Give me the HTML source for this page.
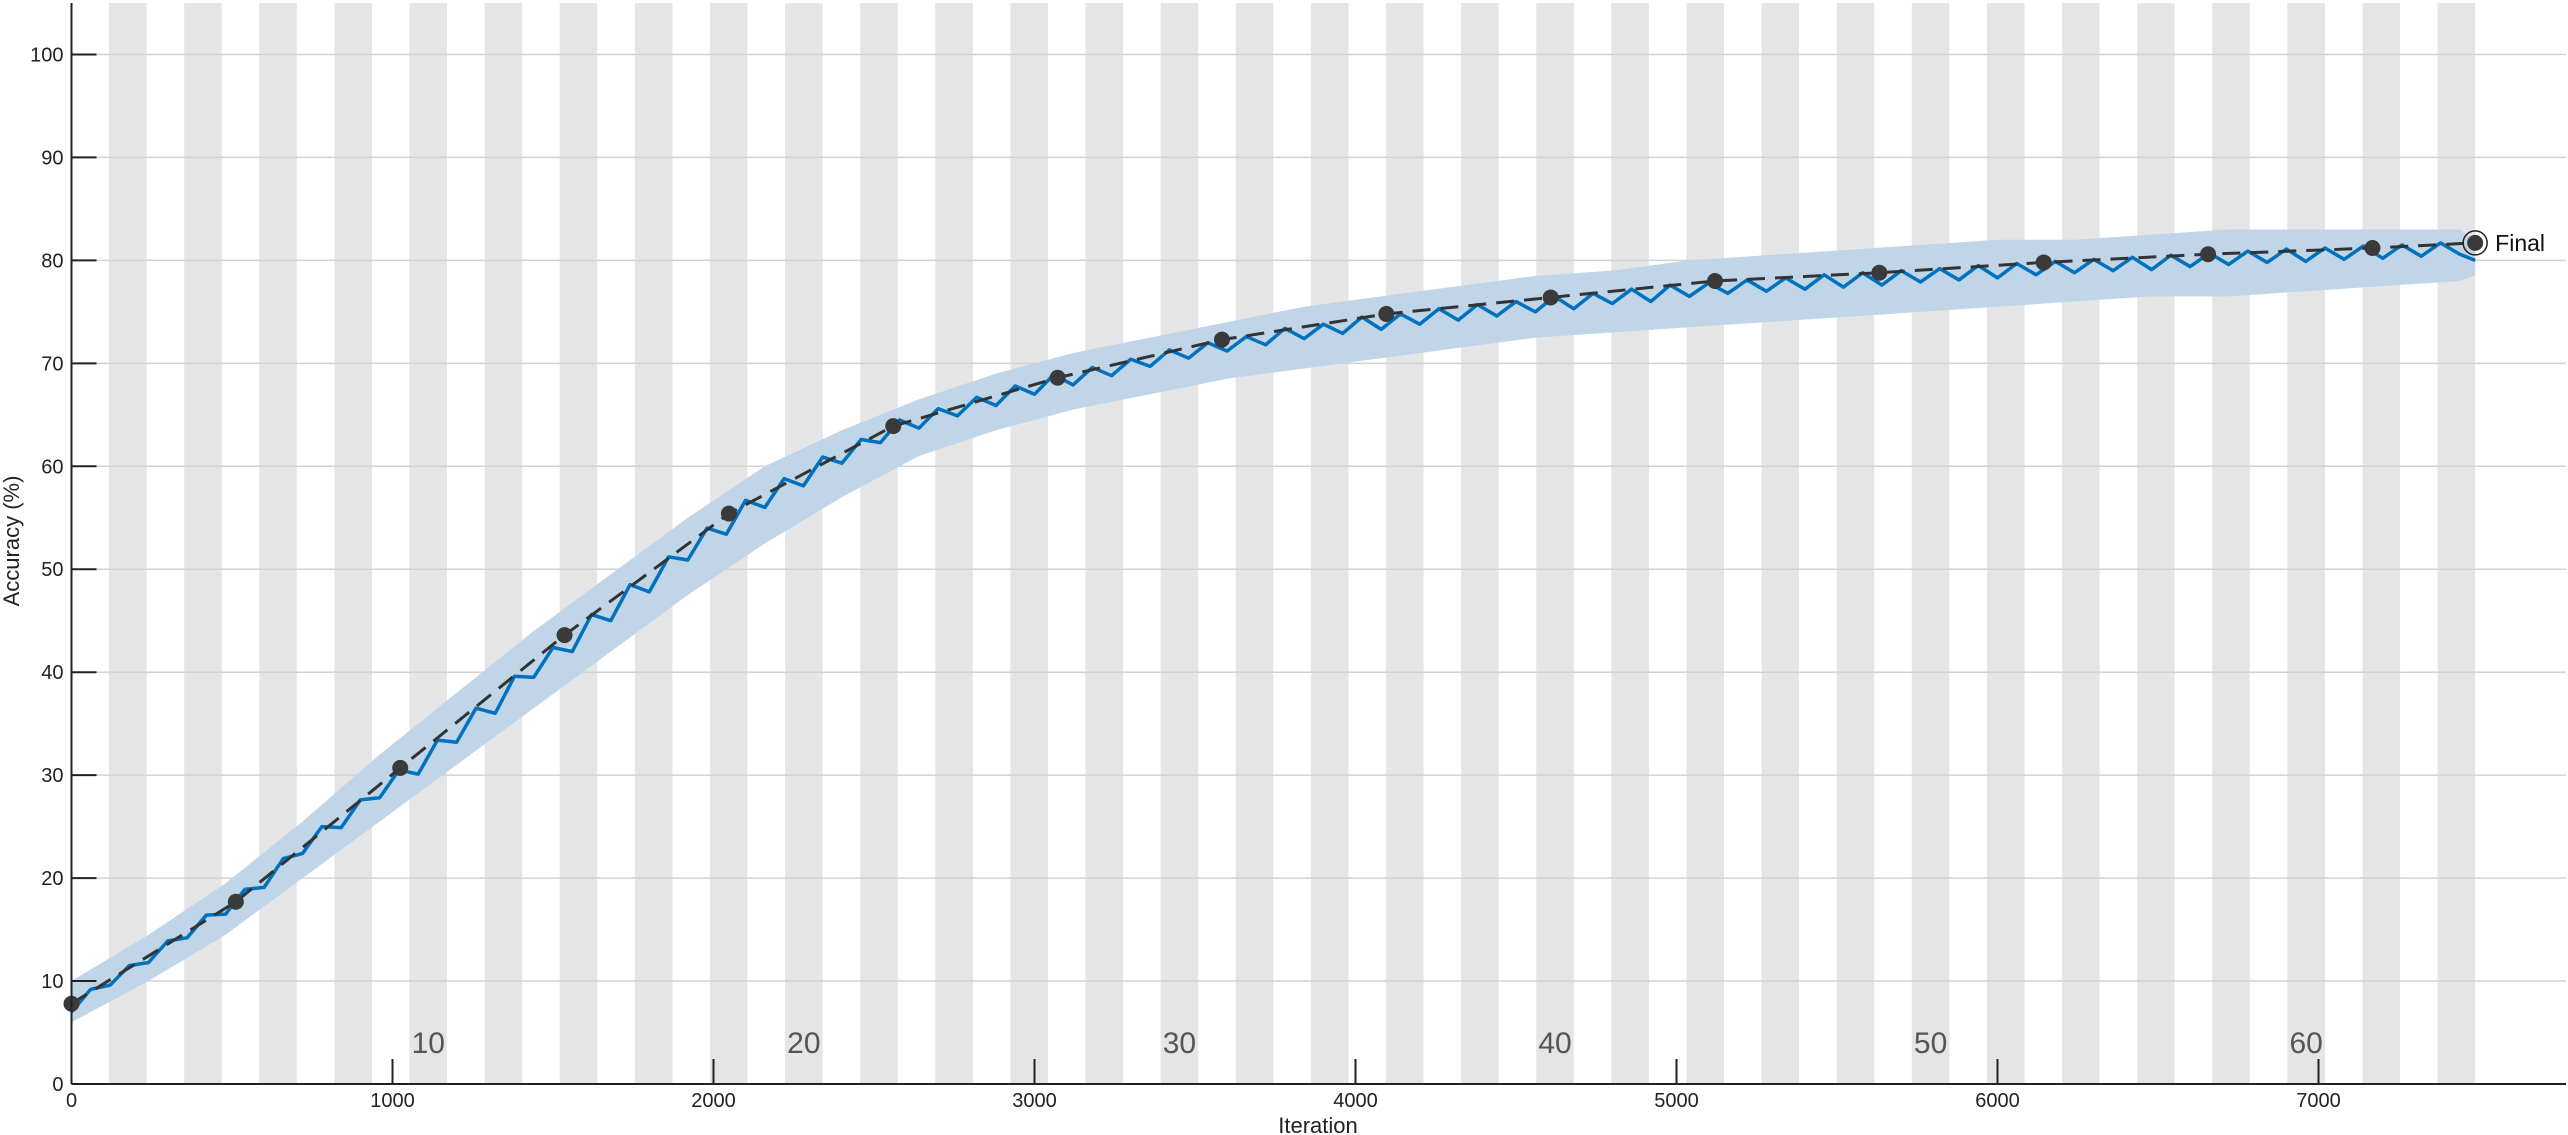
<!DOCTYPE html>
<html><head><meta charset="utf-8"><style>
html,body{margin:0;padding:0;background:#fff;}
svg{display:block;font-family:"Liberation Sans",Arial,sans-serif;}
</style></head><body>
<svg id="chart" width="2568" height="1135" viewBox="0 0 2568 1135" xmlns="http://www.w3.org/2000/svg">
<g id="bands"></g>
<g id="grid"></g>
<g id="epochLabels"></g>
<g id="series"></g>
<g id="axes"></g>
<text x="1318" y="1133" font-size="22" text-anchor="middle" fill="#222">Iteration</text>
<text x="0" y="0" font-size="22" text-anchor="middle" fill="#222" transform="translate(19,541) rotate(-90)">Accuracy (%)</text>
</svg>
<script>
const xTicks=[0,1000,2000,3000,4000,5000,6000,7000];
const yTicks=[0,10,20,30,40,50,60,70,80,90,100];
const epochLabels=[10,20,30,40,50,60];
const itersPerEpoch=117;
const numEpochs=64;
const darkIters=[0,60,120,180,240,300,360,420,480,540,600,660,720,780,840,900,960,1020,1080,1140,1200,1260,1320,1380,1440,1500,1560,1620,1680,1740,1800,1860,1920,1980,2040,2100,2160,2220,2280,2340,2400,2460,2520,2580,2640,2700,2760,2820,2880,2940,3000,3060,3120,3180,3240,3300,3360,3420,3480,3540,3600,3660,3720,3780,3840,3900,3960,4020,4080,4140,4200,4260,4320,4380,4440,4500,4560,4620,4680,4740,4800,4860,4920,4980,5040,5100,5160,5220,5280,5340,5400,5460,5520,5580,5640,5700,5760,5820,5880,5940,6000,6060,6120,6180,6240,6300,6360,6420,6480,6540,6600,6660,6720,6780,6840,6900,6960,7020,7080,7140,7200,7260,7320,7380,7440,7488];
const darkAcc=[7.0,9.2,9.6,11.5,11.8,13.9,14.2,16.4,16.5,18.9,19.1,21.9,22.4,25.0,24.9,27.6,27.8,30.5,30.1,33.4,33.2,36.5,36.0,39.6,39.5,42.4,42.0,45.6,45.0,48.5,47.8,51.2,50.9,54.0,53.4,56.7,56.0,58.8,58.1,60.9,60.3,62.6,62.3,64.5,63.7,65.6,64.9,66.7,65.9,67.8,67.0,68.9,67.9,69.6,68.8,70.4,69.7,71.3,70.5,72.0,71.2,72.6,71.8,73.4,72.4,73.8,72.9,74.5,73.3,74.8,73.8,75.3,74.2,75.7,74.6,76.0,75.0,76.5,75.3,76.8,75.8,77.2,76.0,77.6,76.5,77.8,76.8,78.1,77.0,78.3,77.2,78.6,77.4,78.8,77.6,79.0,77.9,79.2,78.1,79.5,78.3,79.7,78.6,79.9,78.8,80.1,79.0,80.3,79.1,80.5,79.4,80.7,79.6,80.9,79.8,81.1,79.9,81.2,80.1,81.4,80.2,81.5,80.4,81.7,80.6,80.0];
const bandIters=[0,240,480,720,960,1200,1440,1680,1920,2160,2400,2640,2880,3120,3360,3600,3840,4080,4320,4560,4800,5040,5280,5520,5760,6000,6240,6480,6720,6960,7200,7440,7488];
const bandLo=[6,10,14.5,20,25.5,31,36.5,42,47.5,52.5,57,61,63.5,65.5,67,68.5,69.5,70.5,71.5,72.5,73,73.5,74,74.5,75,75.5,76,76.5,76.5,77,77.5,78,78.5];
const bandHi=[10,14.5,19.5,25.5,32,38,44,49.5,55,60,63.5,66.5,69,71,72.5,74,75.5,76.5,77.5,78.5,79,80,80.5,81,81.5,82,82,82.5,83,83,83,83,82];
const trendIters=[0,512,1024,1536,2048,2560,3072,3584,4096,4608,5120,5632,6144,6656,7168,7488];
const trendAcc=[7.8,17.7,30.7,43.6,55.4,63.9,68.6,72.3,74.8,76.4,78.0,78.8,79.8,80.6,81.2,81.7];
const finalIter=7488, finalAcc=81.7;

const X0=71.5, XR=2566, XMAX=7771, Y0=1084, YT=3, YMAX=105;
const sx=v=>X0+(XR-X0)*v/XMAX;
const sy=v=>Y0-(Y0-YT)*v/YMAX;
const NS='http://www.w3.org/2000/svg';
function mk(tag,parent,attrs){const e=document.createElementNS(NS,tag);for(const k in attrs)e.setAttribute(k,attrs[k]);parent.appendChild(e);return e;}

const bands=document.getElementById('bands');
for(let k=1;k<numEpochs;k+=2){
  const r=mk('rect',bands,{x:sx(k*itersPerEpoch),y:YT,width:sx((k+1)*itersPerEpoch)-sx(k*itersPerEpoch),height:Y0-YT,fill:'#e5e5e5'});
  
  
}
const grid=document.getElementById('grid');
yTicks.forEach(t=>{
  const l=mk('line',grid,{x1:X0,x2:XR,y1:sy(t),y2:sy(t),stroke:'#d2d2d2','stroke-width':1.5});
  
  
});
const el=document.getElementById('epochLabels');
epochLabels.forEach(n=>{
  const t=mk('text',el,{x:sx((n-0.5)*itersPerEpoch),y:1053,'font-size':30,'text-anchor':'middle',fill:'#555'});
  t.textContent=n;
  
  
});
const S=document.getElementById('series');
let bp=bandIters.map((v,i)=>sx(v)+','+sy(bandHi[i]));
for(let i=bandIters.length-1;i>=0;i--)bp.push(sx(bandIters[i])+','+sy(bandLo[i]));
const band=mk('polygon',S,{points:bp.join(' '),fill:'#c0d5e8'});


const dl=mk('polyline',S,{points:darkIters.map((v,i)=>sx(v)+','+sy(darkAcc[i])).join(' '),fill:'none',stroke:'#0072bd','stroke-width':3.5,'stroke-linejoin':'round'});


const tl=mk('polyline',S,{points:trendIters.map((v,i)=>sx(v)+','+sy(trendAcc[i])).join(' '),fill:'none',stroke:'#333','stroke-width':3,'stroke-dasharray':'18 10'});


trendIters.forEach((v,i)=>{
  if(i===trendIters.length-1)return;
  const c=mk('circle',S,{cx:sx(v),cy:sy(trendAcc[i]),r:8,fill:'#3a3a3a'});
  
  
});
const fo=mk('circle',S,{cx:sx(finalIter),cy:sy(finalAcc),r:12,fill:'none',stroke:'#222','stroke-width':1.5});


const fd=mk('circle',S,{cx:sx(finalIter),cy:sy(finalAcc),r:8,fill:'#3a3a3a'});


const ft=mk('text',S,{x:sx(finalIter)+20,y:sy(finalAcc)+8,'font-size':23,fill:'#111'});
ft.textContent='Final';



const A=document.getElementById('axes');
const ya=mk('line',A,{x1:X0,x2:X0,y1:YT,y2:Y0,stroke:'#222','stroke-width':2});


const xa=mk('line',A,{x1:X0,x2:XR,y1:Y0,y2:Y0,stroke:'#222','stroke-width':2});


yTicks.forEach(t=>{
  const l=mk('line',A,{x1:X0,x2:X0+25,y1:sy(t),y2:sy(t),stroke:'#222','stroke-width':2});
  
  
  const tx=mk('text',A,{x:X0-8,y:sy(t)+7,'font-size':20,'text-anchor':'end',fill:'#222'});
  tx.textContent=t;
  
  
});
xTicks.forEach(t=>{
  const l=mk('line',A,{x1:sx(t),x2:sx(t),y1:Y0,y2:Y0-25,stroke:'#222','stroke-width':2});
  
  
  const tx=mk('text',A,{x:sx(t),y:1107,'font-size':20,'text-anchor':'middle',fill:'#222'});
  tx.textContent=t;
  
  
});
</script>
</body></html>
